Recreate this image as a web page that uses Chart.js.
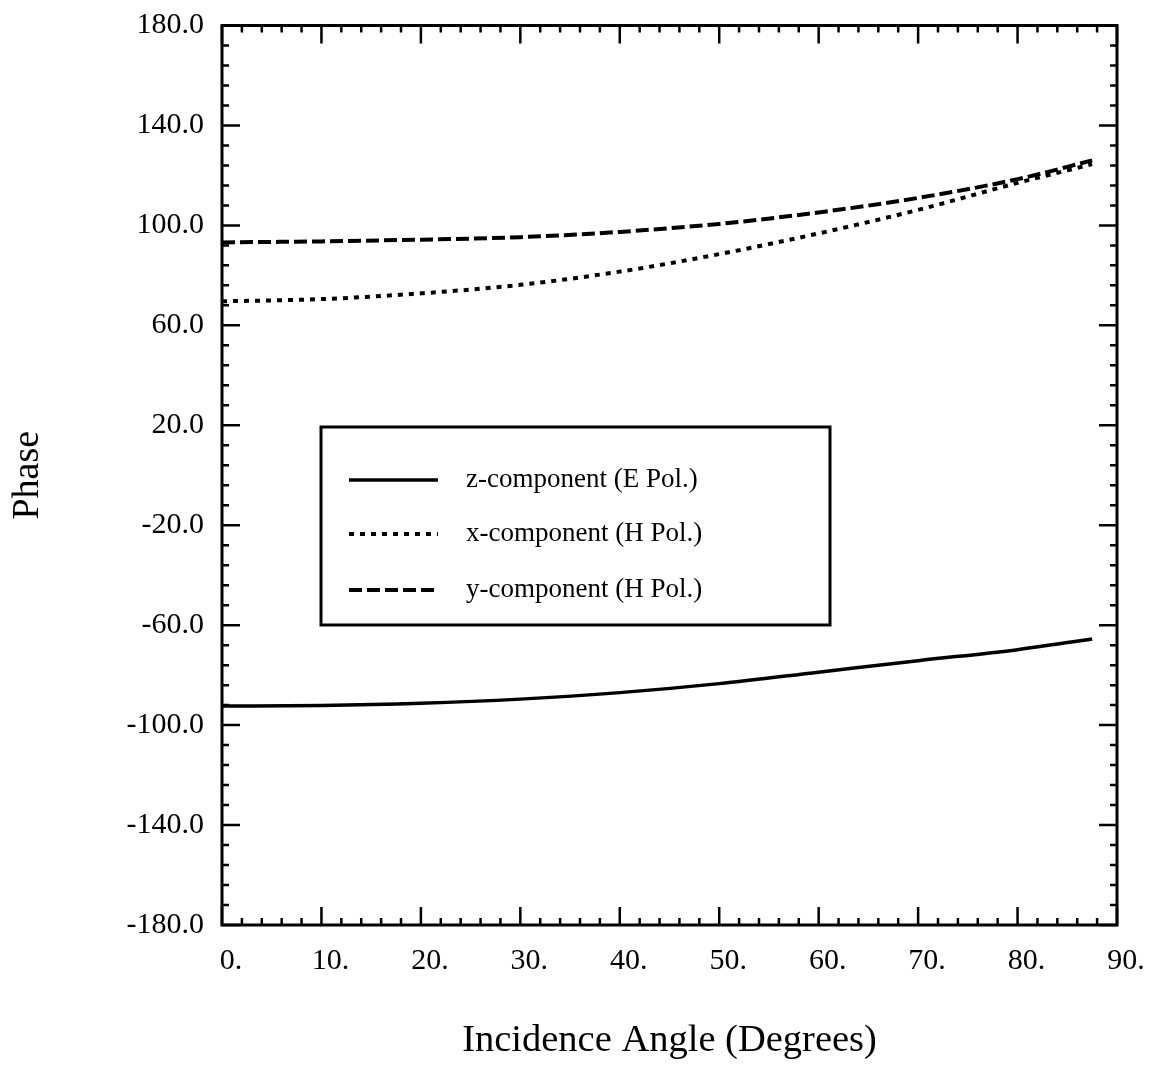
<!DOCTYPE html>
<html>
<head>
<meta charset="utf-8">
<title>Phase vs Incidence Angle</title>
<script src="https://cdn.jsdelivr.net/npm/chart.js@4.4.1/dist/chart.umd.min.js"></script>
<style>
  html, body { margin: 0; padding: 0; background: #fff; }
  #wrap { width: 1160px; height: 1070px; position: relative; }
</style>
</head>
<body>
<div id="wrap"><canvas id="phaseChart"></canvas></div>
<script>
// phase (degrees) of each field component against incidence angle
const angles = [0, 10, 20, 30, 40, 50, 60, 70, 80, 87.5];
const zPhaseE = [-92.4, -92.2, -91.3, -89.6, -87.0, -83.4, -78.8, -74.2, -69.8, -65.5];
const xPhaseH = [69.6, 70.5, 72.8, 76.2, 81.5, 88.5, 96.8, 106.2, 117.0, 124.5];
const yPhaseH = [93.2, 93.6, 94.3, 95.3, 97.4, 100.6, 105.2, 111.0, 118.5, 126.0];
const seriesNames = ['z-component (E Pol.)', 'x-component (H Pol.)', 'y-component (H Pol.)'];

const xTicks = [0, 10, 20, 30, 40, 50, 60, 70, 80, 90];
const xTickLabels = ['0.', '10.', '20.', '30.', '40.', '50.', '60.', '70.', '80.', '90.'];
const yTicks = [-180, -140, -100, -60, -20, 20, 60, 100, 140, 180];
const yTickLabels = ['-180.0', '-140.0', '-100.0', '-60.0', '-20.0', '20.0', '60.0', '100.0', '140.0', '180.0'];
const xMinorStep = 2;
const yMinorStep = 8;

const SERIF = '"Liberation Serif", "Times New Roman", serif';

function toPoints(ys) {
  return angles.map((a, i) => ({ x: a, y: ys[i] }));
}

// box around the plot with inward ticks on all four sides
const frameTicks = {
  id: 'frameTicks',
  afterDatasetsDraw(chart) {
    const { ctx, chartArea: a, scales } = chart;
    const xs = scales.x, ys = scales.y;
    ctx.save();
    ctx.strokeStyle = '#000';
    ctx.lineCap = 'butt';

    ctx.lineWidth = 2.5;
    ctx.beginPath();
    for (let v = xs.min; v <= xs.max + 1e-9; v += xMinorStep) {
      const px = xs.getPixelForValue(v);
      const len = xTicks.includes(v) ? 18 : 7;
      ctx.moveTo(px, a.bottom); ctx.lineTo(px, a.bottom - len);
      ctx.moveTo(px, a.top); ctx.lineTo(px, a.top + len);
    }
    for (let v = ys.min; v <= ys.max + 1e-9; v += yMinorStep) {
      const py = ys.getPixelForValue(v);
      const len = yTicks.includes(v) ? 18 : 7;
      ctx.moveTo(a.left, py); ctx.lineTo(a.left + len, py);
      ctx.moveTo(a.right, py); ctx.lineTo(a.right - len, py);
    }
    ctx.stroke();

    ctx.lineWidth = 3;
    ctx.strokeRect(a.left, a.top, a.right - a.left, a.bottom - a.top);
    ctx.restore();
  }
};

// boxed key inside the plot
const boxedKey = {
  id: 'boxedKey',
  afterDraw(chart) {
    const { ctx } = chart;
    const box = { x: 321, y: 427, w: 509, h: 198 };
    const rows = [480, 534, 590];
    ctx.save();
    ctx.strokeStyle = '#000';
    ctx.lineWidth = 3;
    ctx.strokeRect(box.x, box.y, box.w, box.h);

    chart.data.datasets.forEach((ds, i) => {
      const y = rows[i];
      ctx.beginPath();
      ctx.setLineDash(ds.borderDash || []);
      ctx.lineWidth = ds.borderWidth;
      ctx.moveTo(349, y);
      ctx.lineTo(438, y);
      ctx.stroke();
      ctx.setLineDash([]);
      ctx.fillStyle = '#000';
      ctx.font = '27px ' + SERIF;
      ctx.textAlign = 'left';
      ctx.textBaseline = 'middle';
      ctx.fillText(ds.label, 466, y);
    });
    ctx.restore();
  }
};

new Chart(document.getElementById('phaseChart'), {
  type: 'line',
  data: {
    datasets: [
      {
        label: seriesNames[0],
        data: toPoints(zPhaseE),
        borderColor: '#000',
        borderWidth: 3.5,
        borderDash: []
      },
      {
        label: seriesNames[1],
        data: toPoints(xPhaseH),
        borderColor: '#000',
        borderWidth: 4,
        borderDash: [5, 6]
      },
      {
        label: seriesNames[2],
        data: toPoints(yPhaseH),
        borderColor: '#000',
        borderWidth: 4,
        borderDash: [13, 5]
      }
    ]
  },
  options: {
    responsive: true,
    maintainAspectRatio: false,
    animation: false,
    devicePixelRatio: 1,
    layout: { padding: { top: 23, right: 43, left: 0, bottom: 0 } },
    elements: {
      point: { radius: 0 },
      line: { cubicInterpolationMode: 'monotone', fill: false }
    },
    plugins: {
      legend: { display: false },
      tooltip: { enabled: false }
    },
    scales: {
      x: {
        type: 'linear',
        min: 0,
        max: 90,
        grid: { display: false, drawTicks: false },
        border: { display: false },
        afterBuildTicks: s => { s.ticks = xTicks.map(v => ({ value: v })); },
        afterFit: s => { s.height = 145; },
        ticks: {
          autoSkip: false,
          maxRotation: 0,
          padding: 18,
          labelOffset: 9,
          color: '#000',
          font: { family: SERIF, size: 30 },
          callback: v => xTickLabels[xTicks.indexOf(v)]
        },
        title: {
          display: true,
          text: 'Incidence Angle (Degrees)',
          color: '#000',
          font: { family: SERIF, size: 38.5 },
          padding: { top: 0, bottom: 6 }
        }
      },
      y: {
        type: 'linear',
        min: -180,
        max: 180,
        grid: { display: false, drawTicks: false },
        border: { display: false },
        afterBuildTicks: s => { s.ticks = yTicks.map(v => ({ value: v })); },
        afterFit: s => { s.width = 222; },
        ticks: {
          autoSkip: false,
          padding: 18,
          color: '#000',
          font: { family: SERIF, size: 30, lineHeight: 0.5 },
          callback: v => yTickLabels[yTicks.indexOf(v)]
        },
        title: {
          display: true,
          text: 'Phase',
          color: '#000',
          font: { family: SERIF, size: 38 },
          padding: { top: 5, bottom: 0 }
        }
      }
    }
  },
  plugins: [frameTicks, boxedKey]
});
</script>
</body>
</html>
